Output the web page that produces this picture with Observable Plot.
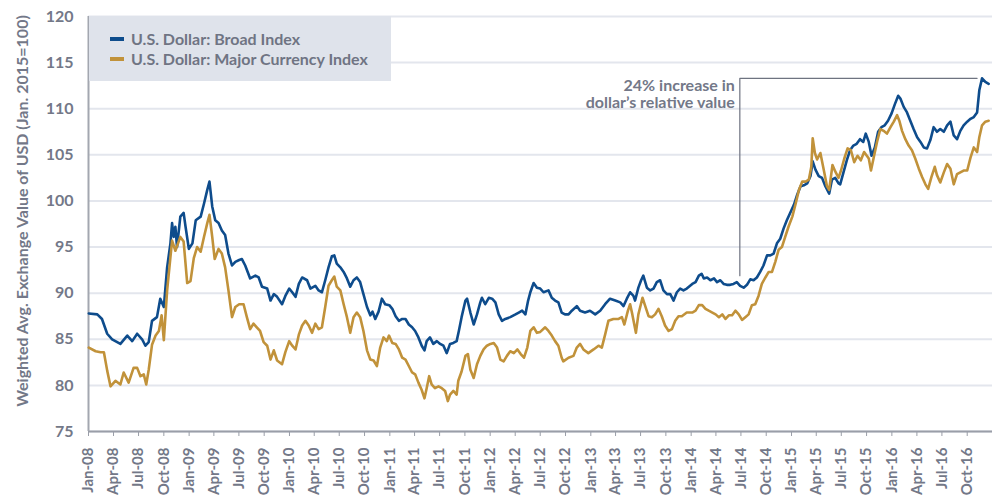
<!DOCTYPE html>
<html><head><meta charset="utf-8">
<script src="https://cdn.jsdelivr.net/npm/d3@7"></script>
<script src="https://cdn.jsdelivr.net/npm/@observablehq/plot@0.6"></script>
<style>
body{margin:0;background:#fff;font-family:Lato,"Open Sans",sans-serif;}
#wrap{position:relative;width:992px;height:503px;overflow:hidden;}
#legend{position:absolute;left:89px;top:16px;width:302px;height:65px;background:#dfe3eb;}
.item{position:absolute;left:21px;font-weight:700;font-size:16px;color:#6f7483;display:flex;align-items:center;height:20px;line-height:20px;white-space:nowrap;}
.sw{width:14px;height:4px;margin-right:7px;}
</style></head><body><div id="wrap"></div>
<script>
const broadDates = ["2008-01-02","2008-02-02","2008-02-19","2008-03-09","2008-03-27","2008-04-26","2008-05-21","2008-06-08","2008-06-26","2008-07-14","2008-07-26","2008-08-07","2008-08-19","2008-09-06","2008-09-18","2008-10-01","2008-10-13","2008-10-25","2008-10-31","2008-11-06","2008-11-12","2008-11-18","2008-11-30","2008-12-12","2008-12-19","2008-12-31","2009-01-13","2009-01-25","2009-02-12","2009-02-24","2009-03-08","2009-03-16","2009-03-26","2009-04-06","2009-04-18","2009-04-30","2009-05-12","2009-05-24","2009-06-06","2009-06-18","2009-07-02",
"2009-07-12","2009-07-24","2009-08-11","2009-08-30","2009-09-11","2009-09-23","2009-10-12","2009-10-24","2009-11-05","2009-11-17","2009-12-05","2009-12-17","2009-12-31","2010-01-11","2010-01-23","2010-02-04","2010-02-16","2010-03-06","2010-03-18","2010-04-05","2010-04-17","2010-04-29","2010-05-11","2010-05-23","2010-06-04","2010-06-13","2010-06-22","2010-07-05","2010-07-17","2010-07-29","2010-08-10","2010-08-22","2010-09-03","2010-09-15","2010-09-27","2010-10-10","2010-10-22","2010-10-30","2010-11-09","2010-11-21","2010-12-03","2010-12-15","2010-12-30",
"2011-01-10","2011-01-22","2011-02-03","2011-02-15","2011-02-27","2011-03-11","2011-03-23","2011-04-03","2011-04-15","2011-04-27","2011-05-07","2011-05-15","2011-05-27","2011-06-08","2011-06-21","2011-07-03","2011-07-15","2011-07-27","2011-08-08","2011-08-20","2011-09-01","2011-09-09","2011-09-19","2011-10-03","2011-10-09","2011-10-21","2011-11-02","2011-11-14","2011-11-26","2011-12-02","2011-12-14","2011-12-27","2012-01-08","2012-01-20","2012-02-01","2012-02-13","2012-02-25","2012-03-14","2012-04-02","2012-04-14","2012-04-26","2012-05-08","2012-05-18","2012-05-26","2012-06-07","2012-06-19",
"2012-07-01","2012-07-13","2012-07-31","2012-08-12","2012-08-24","2012-09-05","2012-09-17","2012-09-29","2012-10-12","2012-10-24","2012-11-11","2012-11-23","2012-12-11","2012-12-29","2013-01-17","2013-02-04","2013-02-22","2013-03-12","2013-03-31","2013-04-18","2013-04-30","2013-05-12","2013-05-24","2013-06-05","2013-06-11","2013-06-23","2013-07-03","2013-07-11","2013-07-24","2013-08-05","2013-08-17","2013-08-29","2013-09-10","2013-09-22","2013-10-05","2013-10-17","2013-10-29","2013-11-10","2013-11-22","2013-12-04","2013-12-16",
"2014-01-05","2014-01-17","2014-01-29","2014-02-08","2014-02-16","2014-02-28","2014-03-12","2014-03-25","2014-04-05","2014-04-17","2014-04-29","2014-05-11","2014-05-23","2014-06-04","2014-06-16","2014-06-28","2014-07-11","2014-07-23","2014-08-04","2014-08-16","2014-08-28","2014-09-09","2014-09-21","2014-10-04","2014-10-16","2014-10-28","2014-11-09","2014-11-21","2014-12-03","2014-12-15","2014-12-27","2015-01-10","2015-01-22","2015-02-03","2015-02-15","2015-02-27","2015-03-11","2015-03-19","2015-03-29","2015-04-10","2015-04-22","2015-05-04","2015-05-18","2015-05-28","2015-06-09","2015-06-21",
"2015-06-27","2015-07-09","2015-07-21","2015-08-02","2015-08-14","2015-08-26","2015-09-07","2015-09-19","2015-09-28","2015-10-09","2015-10-19","2015-10-31","2015-11-12","2015-11-24","2015-12-06","2015-12-18","2015-12-31","2016-01-12","2016-01-24","2016-02-01","2016-02-13","2016-02-25","2016-03-08","2016-03-20","2016-04-02","2016-04-14","2016-04-26","2016-05-08","2016-05-20","2016-06-01","2016-06-13","2016-06-25","2016-07-08","2016-07-20","2016-08-01","2016-08-13","2016-08-25","2016-09-06","2016-09-18","2016-10-01","2016-10-13","2016-10-25","2016-11-06","2016-11-14","2016-11-24","2016-12-06","2016-12-18"];
const broadValues = [87.8,87.7,87.2,85.6,85.0,84.5,85.4,84.8,85.6,85.0,84.3,84.7,87.0,87.4,89.4,88.5,92.8,95.4,97.6,96.1,97.2,95.0,98.3,98.7,97.2,94.8,95.4,97.9,98.3,99.7,101.2,102.1,99.4,97.9,97.6,96.8,96.3,94.3,93.0,93.4,93.6,
93.7,93.0,91.6,91.9,91.7,90.7,90.5,89.2,89.9,89.6,88.8,89.7,90.5,90.1,89.6,91.0,91.7,91.4,90.5,90.8,90.3,90.1,91.4,92.8,94.0,94.1,93.2,92.8,92.3,91.6,90.7,91.4,91.7,91.2,89.9,88.5,87.6,88.0,87.2,88.0,89.4,88.8,88.7,
88.3,87.5,87.0,87.2,87.2,86.6,86.3,85.9,85.2,84.3,83.8,84.8,85.2,84.5,84.8,84.5,84.3,83.5,84.5,84.6,84.8,85.9,87.4,89.2,89.4,87.9,86.6,87.7,89.0,89.5,88.8,89.5,89.4,89.0,87.7,87.0,87.2,87.4,87.7,87.9,88.1,87.7,89.2,90.1,91.1,90.6,
90.5,90.1,90.3,89.5,89.2,89.0,87.9,87.7,87.7,88.1,88.6,88.1,87.9,88.1,87.7,88.1,88.8,89.4,89.2,89.0,88.6,89.4,90.1,89.7,89.2,90.6,91.4,91.9,90.6,90.3,90.5,91.2,91.4,90.3,89.9,89.9,89.2,90.1,90.5,90.3,90.5,
91.0,91.2,91.9,92.1,91.6,91.7,91.4,91.6,91.2,91.4,91.0,90.9,90.9,91.0,91.2,90.8,90.6,90.9,91.5,91.4,91.7,92.3,93.0,94.1,94.1,94.3,95.4,95.9,97.0,97.9,98.7,99.6,100.7,101.6,101.7,101.9,102.7,104.3,103.4,102.7,102.5,101.6,100.8,102.3,102.5,101.9,
101.8,103.1,104.4,105.5,106.0,106.2,106.7,106.4,107.3,106.4,104.9,105.8,107.5,108.0,108.2,108.7,109.5,110.5,111.4,111.1,110.2,109.6,108.7,107.8,106.9,106.4,105.8,105.7,106.6,108.0,107.5,107.8,107.5,108.2,108.6,107.1,106.7,107.6,108.2,108.6,108.9,109.1,109.6,112.0,113.3,112.9,112.7];

const majorDates = ["2008-01-02","2008-01-27","2008-02-14","2008-02-26","2008-03-09","2008-03-21","2008-04-08","2008-04-26","2008-05-08","2008-05-26","2008-06-13","2008-06-26","2008-07-08","2008-07-20","2008-07-29","2008-08-07","2008-08-19","2008-09-01","2008-09-13","2008-09-23","2008-10-01","2008-10-13","2008-10-25","2008-10-31","2008-11-12","2008-11-30","2008-12-12","2008-12-25","2009-01-06","2009-01-18","2009-01-30","2009-02-12","2009-02-24","2009-03-08","2009-03-16","2009-03-26","2009-04-04","2009-04-18","2009-04-30","2009-05-12","2009-05-24","2009-06-06","2009-06-18","2009-07-02",
"2009-07-18","2009-07-30","2009-08-11","2009-08-23","2009-09-04","2009-09-16","2009-09-29","2009-10-12","2009-10-24","2009-11-05","2009-11-17","2009-12-05","2009-12-17","2009-12-31","2010-01-11","2010-01-23","2010-02-04","2010-02-16","2010-02-28","2010-03-12","2010-03-24","2010-04-05","2010-04-17","2010-04-29","2010-05-11","2010-05-23","2010-06-04","2010-06-13","2010-06-22","2010-07-05","2010-07-17","2010-07-29","2010-08-10","2010-08-22","2010-09-03","2010-09-15","2010-09-27","2010-10-10","2010-10-22","2010-11-03","2010-11-15","2010-11-27","2010-12-09","2010-12-21","2010-12-29",
"2011-01-10","2011-01-22","2011-02-03","2011-02-15","2011-02-27","2011-03-11","2011-03-23","2011-04-03","2011-04-15","2011-04-27","2011-05-07","2011-05-15","2011-05-24","2011-06-02","2011-06-14","2011-06-27","2011-07-09","2011-07-21","2011-07-31","2011-08-08","2011-08-20","2011-09-01","2011-09-07","2011-09-19","2011-10-03","2011-10-12","2011-10-21","2011-11-02","2011-11-14","2011-11-26","2011-12-08","2011-12-20","2012-01-02","2012-01-14","2012-01-26","2012-02-07","2012-02-19","2012-03-02","2012-03-14","2012-03-27","2012-04-09","2012-04-21","2012-05-03","2012-05-15","2012-05-26","2012-06-07","2012-06-19",
"2012-07-01","2012-07-19","2012-07-31","2012-08-12","2012-08-24","2012-09-05","2012-09-17","2012-09-23","2012-10-12","2012-10-30","2012-11-11","2012-11-23","2012-12-05","2012-12-23","2013-01-11","2013-01-29","2013-02-10","2013-02-22","2013-03-06","2013-03-24","2013-04-12","2013-04-24","2013-05-03","2013-05-16","2013-05-24","2013-06-01","2013-06-14","2013-06-23","2013-07-08","2013-07-18","2013-07-30","2013-08-11","2013-08-23","2013-09-04","2013-09-16","2013-09-28","2013-10-11","2013-10-23","2013-11-04","2013-11-16","2013-11-28","2013-12-16","2013-12-28",
"2014-01-05","2014-01-17","2014-01-29","2014-02-10","2014-02-22","2014-03-06","2014-03-19","2014-03-31","2014-04-12","2014-04-24","2014-05-06","2014-05-18","2014-05-30","2014-06-11","2014-06-23","2014-07-05","2014-07-17","2014-07-29","2014-08-10","2014-08-22","2014-09-03","2014-09-15","2014-09-28","2014-10-10","2014-10-22","2014-11-03","2014-11-15","2014-11-27","2014-12-09","2014-12-21","2015-01-04","2015-01-16","2015-01-28","2015-02-09","2015-02-21","2015-03-05","2015-03-14","2015-03-19","2015-03-27","2015-04-04","2015-04-16","2015-04-28","2015-05-10","2015-05-18","2015-05-30","2015-06-09","2015-06-21",
"2015-06-30","2015-07-12","2015-07-24","2015-08-05","2015-08-17","2015-08-29","2015-09-10","2015-09-22","2015-10-09","2015-10-17","2015-10-27","2015-11-08","2015-11-20","2015-12-02","2015-12-14","2015-12-27","2016-01-08","2016-01-20","2016-01-28","2016-02-07","2016-02-19","2016-03-02","2016-03-14","2016-03-26","2016-04-08","2016-04-20","2016-05-02","2016-05-12","2016-05-24","2016-06-05","2016-06-13","2016-06-25","2016-07-08","2016-07-20","2016-08-01","2016-08-13","2016-08-25","2016-09-06","2016-09-18","2016-10-01","2016-10-13","2016-10-25","2016-11-06","2016-11-14","2016-11-24","2016-12-06","2016-12-18"];
const majorValues = [84.1,83.7,83.6,83.6,81.6,79.9,80.5,80.1,81.4,80.3,81.9,81.9,81.0,81.2,80.1,81.7,84.4,85.4,85.9,87.6,84.9,90.3,93.9,95.7,94.6,96.1,95.6,91.1,91.3,93.8,95.0,94.5,96.1,97.6,98.5,96.1,93.7,94.8,94.3,92.8,90.3,87.4,88.5,88.8,
88.8,87.4,86.1,86.7,86.3,85.9,84.7,84.3,82.8,83.8,82.7,82.3,83.6,84.8,84.3,83.9,85.5,86.5,87.0,86.5,85.7,86.7,86.1,86.3,88.5,90.8,91.4,91.8,90.7,90.3,88.8,87.4,85.7,87.4,87.9,87.4,85.9,83.8,82.8,82.7,82.1,84.1,85.2,84.8,85.4,
84.6,84.5,83.9,83.0,82.8,82.1,81.4,81.2,80.3,79.5,78.6,79.7,81.0,80.1,79.7,79.9,79.7,79.4,78.3,79.0,79.4,79.0,80.5,81.5,83.2,83.4,81.7,80.8,82.3,83.2,83.9,84.3,84.5,84.6,84.1,82.8,82.6,83.2,83.7,83.5,83.9,83.4,83.0,84.1,85.9,86.3,85.7,
85.8,86.3,85.9,85.4,84.8,84.3,83.0,82.6,83.0,83.2,84.1,84.5,83.9,83.5,83.9,84.3,84.1,85.5,87.0,87.2,87.2,87.4,86.6,88.1,88.8,87.7,85.7,87.7,89.5,88.6,87.5,87.4,87.7,88.3,87.5,86.5,85.9,86.1,87.0,87.5,87.5,87.9,87.9,
87.9,88.1,88.7,88.7,88.3,88.1,87.9,87.7,87.4,87.7,87.2,87.6,87.6,88.1,87.7,87.1,87.4,87.7,88.7,88.8,89.7,91.0,91.7,92.3,92.3,93.4,94.7,95.0,96.1,97.2,98.3,99.7,101.2,102.1,102.1,102.3,103.7,106.8,105.2,104.5,105.2,103.4,101.6,101.2,103.9,103.2,102.5,
103.3,104.6,105.7,105.5,104.2,104.9,104.4,105.3,104.6,103.3,104.7,106.4,107.8,107.6,107.3,108.0,108.6,109.3,108.7,107.6,106.7,106.0,105.5,104.6,103.5,102.6,101.8,101.3,102.6,103.7,102.8,102.0,103.1,104.0,103.5,101.8,102.9,103.1,103.3,103.3,104.7,105.8,105.3,106.9,108.2,108.6,108.7];

const seriesNames = ["U.S. Dollar: Broad Index", "U.S. Dollar: Major Currency Index"];
const seriesColors = ["#0e4c8c", "#c1923a"];
const yTicks = [75, 80, 85, 90, 95, 100, 105, 110, 115, 120];
const yLabel = "Weighted Avg. Exchange Value of USD (Jan. 2015=100)";
const noteDates = ["2014-06-27", "2014-06-27", "2016-11-06"];
const noteValues = [91.9, 113.3, 113.3];
const noteText = "24% increase in\ndollar\u2019s relative value";

const parse = d3.utcParse("%Y-%m-%d");
const data = [
  ...broadDates.map((d, i) => ({date: parse(d), value: broadValues[i], series: seriesNames[0]})),
  ...majorDates.map((d, i) => ({date: parse(d), value: majorValues[i], series: seriesNames[1]}))
];
const note = noteDates.map((d, i) => ({date: parse(d), value: noteValues[i]}));
const x0 = new Date(Date.UTC(2008, 0, 1)), x1 = new Date(Date.UTC(2017, 0, 1));
const xTicks = d3.utcMonth.every(3).range(x0, x1);
const gray = "#737888";

const chart = Plot.plot({
  width: 992, height: 503,
  marginLeft: 88, marginRight: 0, marginTop: 16, marginBottom: 72,
  style: {fontFamily: "Lato, 'Open Sans', sans-serif", fontSize: "16px", fontWeight: 700, color: gray, background: "#fff"},
  x: {type: "utc", domain: [x0, x1]},
  y: {domain: [75, 120]},
  color: {domain: seriesNames, range: seriesColors},
  marks: [
    Plot.gridY(yTicks, {stroke: "#e3e6ed", strokeOpacity: 1, strokeWidth: 2}),
    Plot.axisY({ticks: yTicks, tickSize: 0, tickPadding: 15, label: null, fontSize: 16}),
    Plot.axisX({ticks: xTicks, tickFormat: d3.utcFormat("%b-%y"), tickRotate: -90, tickSize: 5, tickPadding: 11, label: null, fontSize: 15, stroke: "#9a9ea8"}),
    Plot.ruleY([75], {stroke: "#9a9ea8", strokeWidth: 2}),
    Plot.ruleX([x0], {stroke: "#a3a7b0", strokeWidth: 2}),
    Plot.text([yLabel], {frameAnchor: "left", rotate: -90, textAnchor: "middle", dx: -66, dy: -13, fontSize: 16, fontWeight: 700, fill: gray}),
    Plot.line(note, {x: "date", y: "value", stroke: "#6e7380", strokeWidth: 1.2}),
    Plot.text([noteText], {x: () => note[1].date, y: () => note[1].value, textAnchor: "end", lineAnchor: "top", dx: -5, dy: 0, fontSize: 16, fontWeight: 700, fill: gray, lineHeight: 1.08}),
    Plot.line(data, {x: "date", y: "value", stroke: "series", z: "series", strokeWidth: 2.6, curve: "linear"})
  ]
});
const wrap = document.getElementById("wrap");
wrap.appendChild(chart);
const legend = document.createElement("div");
legend.id = "legend";
seriesNames.forEach((name, i) => {
  const item = document.createElement("div");
  item.className = "item";
  item.style.top = (13 + i * 20) + "px";
  item.innerHTML = `<span class="sw" style="background:${seriesColors[i]}"></span><span>${name}</span>`;
  legend.appendChild(item);
});
wrap.appendChild(legend);
</script></body></html>
